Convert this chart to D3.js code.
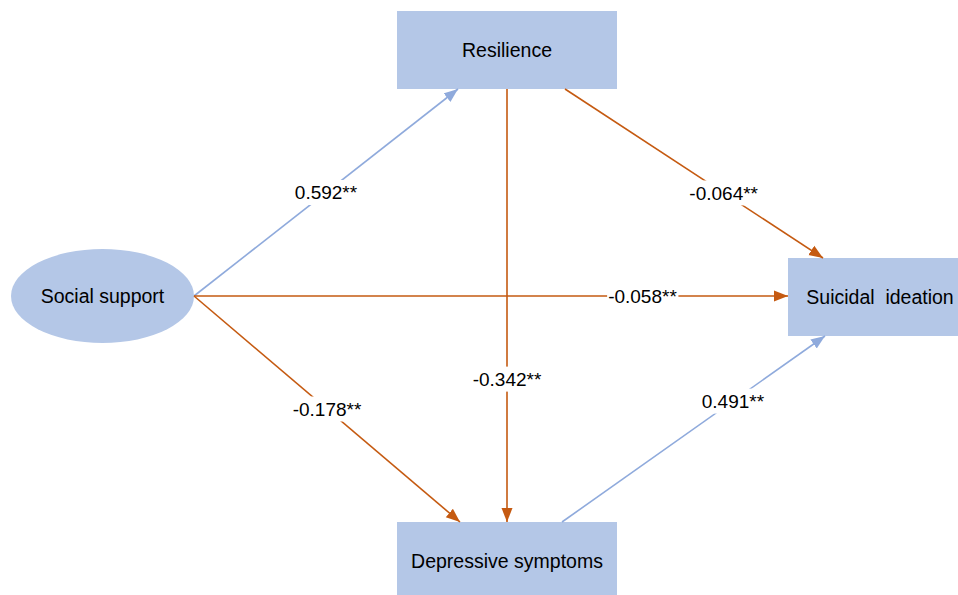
<!DOCTYPE html>
<meta charset="utf-8">
<style>
body { margin: 0; background: #fff; overflow: hidden; }
text { font-family: "Liberation Sans", Arial, sans-serif; fill: #000; }
</style>
<body>
<script src="https://d3js.org/d3.v7.min.js"></script>
<script>

// variables in the model
var nodeNames = ["Social support", "Resilience", "Depressive symptoms", "Suicidal  ideation"];

// paths: from, to, standardised coefficient
var pathFrom = ["Social support", "Resilience", "Resilience", "Social support", "Social support", "Depressive symptoms"];
var pathTo = ["Resilience", "Depressive symptoms", "Suicidal  ideation", "Suicidal  ideation", "Depressive symptoms", "Suicidal  ideation"];
var pathCoef = [0.592, -0.342, -0.064, -0.058, -0.178, 0.491];
var pathSig = ["**", "**", "**", "**", "**", "**"];

var width = 958, height = 595;

var blueFill = "#b4c7e7", blueLine = "#8faadc", orange = "#c55a11";

// layout of the boxes (the drawing, not the data); two boxes run past the edge
var layout = {
  "Social support":      {shape: "ellipse", cx: 102.5, cy: 296, rx: 91.5, ry: 47},
  "Resilience":          {shape: "rect", x: 397, y: 11, w: 220, h: 78},
  "Depressive symptoms": {shape: "rect", x: 397, y: 522, w: 220, h: 78},
  "Suicidal  ideation":  {shape: "rect", x: 788, y: 258, w: 184, h: 78}
};

// where each path leaves / enters, and where its label sits (0..1 along the line)
var anchors = [
  {p0: [194, 296], p1: [458, 89],  t: 0.5},
  {p0: [507, 89],  p1: [507, 522], t: 0.67},
  {p0: [565, 89],  p1: [823, 258], t: 0.615},
  {p0: [194, 296], p1: [788, 296], t: 0.755},
  {p0: [194, 296], p1: [460, 522], t: 0.5},
  {p0: [562, 522], p1: [825, 336], t: 0.65}
];

var svg = d3.select("body").append("svg")
    .attr("width", width)
    .attr("height", height);

var defs = svg.append("defs");
[["arrow-blue", blueLine], ["arrow-orange", orange]].forEach(function(m) {
  defs.append("marker")
      .attr("id", m[0])
      .attr("viewBox", "0 -6 14 12")
      .attr("refX", 14)
      .attr("refY", 0)
      .attr("markerUnits", "userSpaceOnUse")
      .attr("markerWidth", 14)
      .attr("markerHeight", 12)
      .attr("orient", "auto")
    .append("path")
      .attr("d", "M0,-5.5L14,0L0,5.5Z")
      .attr("fill", m[1]);
});

// nodes
var nodes = svg.append("g").selectAll("g")
    .data(nodeNames)
  .enter().append("g");

nodes.each(function(d) {
  var l = layout[d], g = d3.select(this);
  var cx, cy;
  if (l.shape === "ellipse") {
    g.append("ellipse")
        .attr("cx", l.cx).attr("cy", l.cy)
        .attr("rx", l.rx).attr("ry", l.ry)
        .attr("fill", blueFill);
    cx = l.cx; cy = l.cy;
  } else {
    g.append("rect")
        .attr("x", l.x).attr("y", l.y)
        .attr("width", l.w).attr("height", l.h)
        .attr("fill", blueFill);
    cx = l.x + l.w / 2; cy = l.y + l.h / 2;
  }
  g.append("text")
      .attr("x", cx).attr("y", cy)
      .attr("text-anchor", "middle")
      .attr("dy", "0.35em")
      .attr("font-size", 19.5)
      .style("white-space", "pre")
      .text(d);
});

// paths
var fmt = d3.formatLocale({decimal: ".", thousands: ",", grouping: [3], currency: ["", ""], minus: "-"}).format(".3f");
var paths = pathCoef.map(function(c, i) {
  return {from: pathFrom[i], to: pathTo[i], coef: c, sig: pathSig[i], a: anchors[i]};
});

var edges = svg.append("g").selectAll("g")
    .data(paths)
  .enter().append("g");

edges.append("line")
    .attr("x1", function(d) { return d.a.p0[0]; })
    .attr("y1", function(d) { return d.a.p0[1]; })
    .attr("x2", function(d) { return d.a.p1[0]; })
    .attr("y2", function(d) { return d.a.p1[1]; })
    .attr("stroke", function(d) { return d.coef > 0 ? blueLine : orange; })
    .attr("stroke-width", 1.6)
    .attr("marker-end", function(d) { return d.coef > 0 ? "url(#arrow-blue)" : "url(#arrow-orange)"; });

edges.each(function(d) {
  var g = d3.select(this);
  var lx = d3.interpolateNumber(d.a.p0[0], d.a.p1[0])(d.a.t),
      ly = d3.interpolateNumber(d.a.p0[1], d.a.p1[1])(d.a.t);
  var bg = g.append("rect").attr("fill", "#fff");
  var t = g.append("text")
      .attr("x", lx).attr("y", ly)
      .attr("text-anchor", "middle")
      .attr("dy", "0.35em")
      .attr("font-size", 19)
      .text(fmt(d.coef) + d.sig);
  var bb = t.node().getBBox();
  bg.attr("x", bb.x - 1).attr("y", ly - 12.5)
    .attr("width", bb.width + 2).attr("height", 25);
});

</script>
